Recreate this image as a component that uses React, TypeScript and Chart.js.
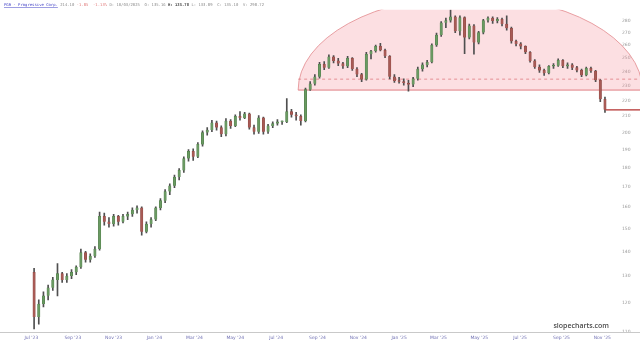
import React, { useEffect, useRef } from 'react';
import { Chart, registerables } from 'chart.js';

Chart.register(...registerables);

// ---------- header text ----------
const titleName = 'PGR - Progressive Corp.';
const titleLast = '214.10';
const titleChange = '-1.85  -1.13%';
const titleInfo = 'D: 10/03/2025  O: 135.16';
const titleHigh = 'H: 135.78';
const titleRest = 'L: 133.89  C: 135.10  V: 298.72';
const watermark = 'slopecharts.com';

// ---------- weekly candles (week starting Monday) ----------
const firstWeek = '2023-07-03';
const opens = [
  131.5, 115.0, 119.5, 122.5, 125.5, 128.5, 131.0, 128.5, 130.0, 131.5,
  133.5, 139.5, 136.5, 138.0, 141.0, 155.5, 153.0, 152.0, 155.5, 153.0,
  155.5, 156.5, 158.5, 159.5, 148.5, 152.0, 154.0, 159.5, 163.0, 167.5,
  170.5, 175.0, 178.5, 185.0, 189.0, 186.0, 193.0, 200.0, 201.5, 206.0,
  203.0, 199.0, 207.0, 204.0, 210.0, 209.0, 211.5, 203.0, 200.5, 209.0,
  200.5, 204.0, 205.5, 206.5, 206.5, 213.0, 211.0, 210.0, 207.0, 227.5,
  231.5, 236.5, 245.5, 243.0, 251.0, 248.0, 246.0, 244.0, 250.0, 242.0,
  238.0, 234.5, 253.0, 255.5, 259.0, 256.0, 251.5, 236.5, 233.5, 233.0,
  232.0, 231.0, 235.0, 242.0, 245.0, 247.0, 260.0, 268.0, 278.0, 280.0,
  283.0, 271.0, 282.5, 266.0, 275.5, 262.0, 270.0, 280.0, 282.0, 279.5,
  281.0, 277.0, 273.5, 263.0, 261.0, 259.0, 254.5, 248.0, 243.5, 241.0,
  239.0, 244.0, 244.5, 248.5, 244.0, 245.0, 243.0, 241.0, 237.5, 242.5,
  240.5, 234.0, 221.0,
];
const highs = [
  133.0, 121.0, 124.0, 126.5, 129.5, 135.0, 131.5, 131.0, 132.5, 134.0,
  141.0, 140.0, 139.0, 142.0, 157.5, 157.0, 155.0, 156.5, 156.0, 156.5,
  157.5, 159.5, 160.5, 160.0, 153.0, 155.0, 160.0, 164.0, 168.5, 171.5,
  176.0, 179.5, 186.0, 190.0, 190.5, 194.0, 201.0, 203.0, 207.5, 207.0,
  204.0, 208.5, 208.0, 211.0, 213.0, 212.5, 212.0, 204.5, 210.5, 209.5,
  205.0, 206.5, 208.0, 207.0, 221.5, 214.5, 212.5, 211.0, 228.5, 233.0,
  238.0, 247.0, 247.5, 252.5, 252.0, 250.0, 247.0, 251.5, 250.5, 243.0,
  239.0, 254.5, 256.0, 260.0, 261.5, 257.0, 252.0, 238.0, 236.0, 235.0,
  234.0, 236.0, 243.5, 246.5, 248.5, 261.0, 269.5, 279.0, 282.0, 289.0,
  284.0, 284.0, 283.0, 277.0, 276.5, 271.0, 281.0, 283.0, 283.0, 282.5,
  282.0, 284.0, 274.5, 264.0, 262.0, 259.5, 255.0, 249.0, 245.0, 242.0,
  244.5, 246.0, 249.5, 249.0, 246.5, 246.0, 244.0, 242.0, 243.5, 243.5,
  241.0, 234.5, 222.5,
];
const lows = [
  110.9, 112.5, 118.5, 121.0, 124.5, 122.5, 127.5, 127.5, 129.0, 130.5,
  133.0, 135.5, 135.5, 137.5, 140.5, 151.5, 150.5, 151.0, 151.5, 152.5,
  154.0, 155.5, 157.0, 147.0, 148.0, 150.5, 153.5, 158.5, 162.0, 166.0,
  169.5, 173.5, 177.5, 183.5, 184.0, 185.5, 192.0, 198.5, 200.5, 201.5,
  197.5, 198.0, 202.5, 203.5, 207.5, 208.5, 202.0, 199.0, 199.5, 199.0,
  199.5, 203.0, 204.5, 205.0, 206.0, 209.5, 207.5, 204.5, 206.5, 227.0,
  230.5, 235.5, 241.5, 242.5, 246.5, 244.5, 242.5, 243.0, 241.0, 236.5,
  233.0, 234.0, 249.5, 254.5, 255.5, 250.5, 235.0, 232.5, 232.0, 230.5,
  226.5, 229.5, 234.0, 240.5, 243.5, 246.5, 259.0, 267.0, 274.0, 278.5,
  270.0, 268.0, 253.5, 265.0, 253.0, 261.0, 269.0, 278.5, 277.5, 278.0,
  275.5, 272.0, 261.5, 259.5, 257.0, 253.5, 247.0, 242.5, 239.5, 237.5,
  238.5, 242.5, 244.0, 243.0, 242.5, 241.5, 240.0, 236.5, 237.0, 239.5,
  233.0, 219.5, 212.5,
];
const closes = [
  115.0, 119.5, 122.5, 125.5, 128.5, 131.0, 128.5, 130.0, 131.5, 133.5,
  139.5, 136.5, 138.0, 141.0, 155.5, 153.0, 152.0, 155.5, 153.0, 155.5,
  156.5, 158.5, 159.5, 148.5, 152.0, 154.0, 159.5, 163.0, 167.5, 170.5,
  175.0, 178.5, 185.0, 189.0, 186.0, 193.0, 200.0, 201.5, 206.0, 203.0,
  199.0, 207.0, 204.0, 210.0, 209.0, 211.5, 203.0, 200.5, 209.0, 200.5,
  204.0, 205.5, 206.5, 206.5, 213.0, 211.0, 210.0, 207.0, 227.5, 231.5,
  236.5, 245.5, 243.0, 251.0, 248.0, 246.0, 244.0, 250.0, 242.0, 238.0,
  234.5, 253.0, 255.5, 259.0, 256.0, 251.5, 236.5, 233.5, 233.0, 232.0,
  231.0, 235.0, 242.0, 245.0, 247.0, 260.0, 268.0, 278.0, 280.0, 283.0,
  271.0, 282.5, 266.0, 275.5, 262.0, 270.0, 280.0, 282.0, 279.5, 281.0,
  277.0, 273.5, 263.0, 261.0, 259.0, 254.5, 248.0, 243.5, 241.0, 239.0,
  244.0, 244.5, 248.5, 244.0, 245.0, 243.0, 241.0, 237.5, 242.5, 240.5,
  234.0, 221.0, 214.1,
];

// ---------- axes ----------
const xMinDate = '2023-05-15';
const xMaxDate = '2025-11-20';
const xTickDates = [
  '2023-07-01', '2023-09-01', '2023-11-01', '2024-01-01', '2024-03-01',
  '2024-05-01', '2024-07-01', '2024-09-01', '2024-11-01', '2025-01-01',
  '2025-03-01', '2025-05-01', '2025-07-01', '2025-09-01', '2025-11-01',
];
const xTickLabels = [
  "Jul '23", "Sep '23", "Nov '23", "Jan '24", "Mar '24",
  "May '24", "Jul '24", "Sep '24", "Nov '24", "Jan '25",
  "Mar '25", "May '25", "Jul '25", "Sep '25", "Nov '25",
];
const yMin = 109.9;
const yMax = 289.2;
const yTickValues = [110, 120, 130, 140, 150, 160, 170, 180, 190, 200, 210, 220, 230, 240, 250, 260, 270, 280];

// ---------- rounding-top annotation ----------
const domeStart = '2024-08-03';
const domeEnd = '2025-12-31';
const necklinePrice = 227.2;
const domeTopPrice = 301.5;
const dashedPrice = 234.8;
const lastPrice = 214.1;
const lastLineStart = '2025-11-06';

const DAY = 86400000;
const weekPos = (d: string) => (Date.parse(d) - Date.parse(firstWeek)) / (7 * DAY);

const overlay = {
  id: 'overlay',
  beforeDatasetsDraw(chart: any) {
    const { ctx, chartArea, scales } = chart;
    const x = scales.x;
    const y = scales.y;
    const x0 = x.getPixelForValue(weekPos(domeStart));
    const x1 = x.getPixelForValue(weekPos(domeEnd));
    const yb = y.getPixelForValue(necklinePrice);
    const yt = y.getPixelForValue(domeTopPrice);
    const yd = y.getPixelForValue(dashedPrice);
    ctx.save();
    ctx.beginPath();
    ctx.rect(chartArea.left, chartArea.top, chart.width - chartArea.left, chartArea.bottom - chartArea.top);
    ctx.clip();
    ctx.beginPath();
    ctx.ellipse((x0 + x1) / 2, yb, (x1 - x0) / 2, yb - yt, 0, Math.PI, 2 * Math.PI);
    ctx.closePath();
    ctx.fillStyle = 'rgba(245, 150, 158, 0.3)';
    ctx.fill();
    ctx.beginPath();
    ctx.ellipse((x0 + x1) / 2, yb, (x1 - x0) / 2, yb - yt, 0, Math.PI, 2 * Math.PI);
    ctx.strokeStyle = '#e2898d';
    ctx.lineWidth = 0.8;
    ctx.stroke();
    ctx.beginPath();
    ctx.moveTo(x0, yb);
    ctx.lineTo(chart.width, yb);
    ctx.strokeStyle = '#e07c82';
    ctx.lineWidth = 1;
    ctx.stroke();
    ctx.beginPath();
    ctx.setLineDash([3, 3]);
    ctx.moveTo(x0, yd);
    ctx.lineTo(chart.width, yd);
    ctx.strokeStyle = '#e07c82';
    ctx.lineWidth = 0.8;
    ctx.stroke();
    ctx.restore();
  },
  afterDraw(chart: any) {
    const { ctx, chartArea, scales } = chart;
    const x = scales.x;
    const y = scales.y;
    ctx.save();
    // bottom axis line
    ctx.beginPath();
    ctx.moveTo(0, chartArea.bottom + 0.5);
    ctx.lineTo(chart.width, chartArea.bottom + 0.5);
    ctx.strokeStyle = '#c9c9c9';
    ctx.lineWidth = 1;
    ctx.stroke();
    // last price line
    const yl = y.getPixelForValue(lastPrice);
    ctx.beginPath();
    ctx.moveTo(x.getPixelForValue(weekPos(lastLineStart)), yl);
    ctx.lineTo(chart.width, yl);
    ctx.strokeStyle = '#b3302f';
    ctx.lineWidth = 1.4;
    ctx.stroke();
    // header
    ctx.textBaseline = 'middle';
    let cx = 4;
    const ty = 5;
    const seg = (t: string, c: string, bold = false, under = false) => {
      ctx.font = (bold ? 'bold ' : '') + '3.9px "DejaVu Sans Mono", monospace';
      ctx.fillStyle = c;
      ctx.fillText(t, cx, ty);
      const w = ctx.measureText(t).width;
      if (under) {
        ctx.fillRect(cx, ty + 2.2, w, 0.5);
      }
      cx += w + ctx.measureText(' ').width;
    };
    seg(titleName, '#3d3dc4', false, true);
    seg(titleLast, '#8a8a8a');
    seg(titleChange, '#e07878');
    seg(titleInfo, '#8a8a8a');
    seg(titleHigh, '#444444', true);
    seg(titleRest, '#8a8a8a');
    // watermark
    ctx.font = '600 7px "Open Sans", sans-serif';
    ctx.fillStyle = '#4a4a4a';
    ctx.textBaseline = 'alphabetic';
    ctx.textAlign = 'right';
    ctx.fillText(watermark, 609, 328);
    ctx.restore();
  },
};

export default function App() {
  const ref = useRef<HTMLCanvasElement | null>(null);
  useEffect(() => {
    if (!ref.current) return;
    const xs = opens.map((_, i) => i + 2 / 7);
    const up = opens.map((o, i) => closes[i] >= o);
    const chart = new Chart(ref.current, {
      type: 'bar',
      data: {
        datasets: [
          {
            label: 'wick',
            data: xs.map((xv, i) => ({ x: xv, y: [lows[i], highs[i]] })) as any,
            backgroundColor: '#4f4f4f',
            barThickness: 1,
            grouped: false,
            order: 2,
          } as any,
          {
            label: 'body',
            data: xs.map((xv, i) => ({ x: xv, y: [opens[i], closes[i]] })) as any,
            backgroundColor: up.map((u) => (u ? '#6a9a62' : '#a85a55')),
            borderColor: up.map((u) => (u ? '#4e7a48' : '#8a4540')),
            borderWidth: 0.5,
            barThickness: 2.4,
            minBarLength: 1,
            grouped: false,
            order: 1,
          } as any,
        ],
      },
      options: {
        animation: false,
        responsive: false,
        maintainAspectRatio: false,
        layout: { padding: { top: 7, left: 0, right: 0, bottom: 0 } },
        plugins: { legend: { display: false }, tooltip: { enabled: false }, title: { display: false } },
        scales: {
          x: {
            type: 'linear',
            min: weekPos(xMinDate),
            max: weekPos(xMaxDate),
            offset: false,
            grid: { display: false, drawTicks: false },
            border: { display: false },
            afterBuildTicks: (s: any) => {
              s.ticks = xTickDates.map((d) => ({ value: weekPos(d) }));
            },
            afterFit: (s: any) => {
              s.height = 11;
            },
            ticks: {
              autoSkip: false,
              maxRotation: 0,
              padding: 3,
              color: '#7272b4',
              font: { size: 4.5, family: '"DejaVu Sans", sans-serif' },
              callback: (_v: any, i: number) => xTickLabels[i],
            },
          },
          y: {
            type: 'logarithmic',
            position: 'right',
            min: yMin,
            max: yMax,
            z: 1,
            grid: { display: false, drawTicks: false },
            border: { display: false },
            afterBuildTicks: (s: any) => {
              s.ticks = yTickValues.map((v) => ({ value: v }));
            },
            afterFit: (s: any) => {
              s.width = 25;
            },
            ticks: {
              padding: 7,
              color: '#9a9a9a',
              font: { size: 4.5, family: '"DejaVu Sans", sans-serif' },
              callback: (v: any) => String(v),
            },
          },
        },
      } as any,
      plugins: [overlay],
    });
    return () => chart.destroy();
  }, []);
  return (
    <div style={{ position: 'fixed', left: 0, top: 0, width: 640, height: 343, background: '#ffffff' }}>
      <canvas ref={ref} width={640} height={343} />
    </div>
  );
}
